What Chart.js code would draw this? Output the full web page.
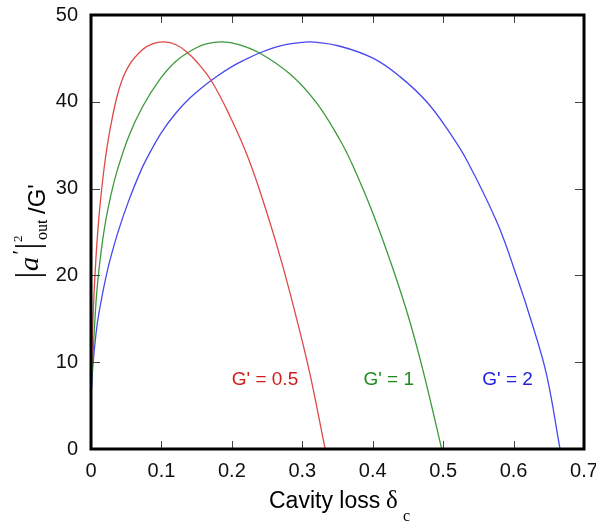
<!DOCTYPE html>
<html>
<head>
<meta charset="utf-8">
<script src="https://cdn.jsdelivr.net/npm/chart.js@4.4.1/dist/chart.umd.min.js"></script>
<style>
html,body{margin:0;padding:0;background:#fff}
#wrap{width:596px;height:524px}
</style>
</head>
<body>
<div id="wrap"><canvas id="c" width="596" height="524"></canvas></div>
<script>
// values (cavity loss -> |a'|^2_out / G')
const lossG05 = [0.001,0.0033,0.0071,0.0118,0.019,0.027,0.040,0.054,0.073,0.088,0.104,0.120,0.135,0.149,0.171,0.197,0.2234,0.2494,0.2708,0.292,0.311,0.3325];
const outG05  = [10,16.1,22.1,27.2,32.6,36.8,41.5,44.2,46.0,46.7,46.9,46.6,45.8,44.7,42.4,38.4,33.5,27.3,21.5,15.0,8.6,0];

const lossG1 = [0.001,0.0071,0.0118,0.019,0.0284,0.038,0.054,0.073,0.097,0.121,0.149,0.165,0.186,0.210,0.240,0.2826,0.320,0.3535,0.372,0.401,0.429,0.453,0.474,0.498];
const outG1  = [8,16.9,21,25.4,29.3,32.3,36.1,39.4,42.5,44.7,46.2,46.7,46.9,46.6,45.6,43.2,39.9,35.6,32.6,27.0,20.7,14.6,8.2,0];

const lossG2 = [0.001,0.0024,0.0071,0.0118,0.0237,0.038,0.054,0.071,0.080,0.100,0.120,0.140,0.160,0.180,0.200,0.220,0.240,0.260,0.280,0.300,0.313,0.3535,0.401,0.4387,0.4766,0.5097,0.5334,0.576,0.6044,0.628,0.647,0.666];
const outG2  = [7,9.3,13.3,15.9,20.7,24.9,28.7,32.1,33.6,36.45,38.65,40.4,41.8,43.0,44.05,44.9,45.65,46.25,46.65,46.85,46.9,46.4,45.0,42.9,40.0,36.4,33.3,26.2,19.9,14.0,8.5,0];

const xTicks = [0,0.1,0.2,0.3,0.4,0.5,0.6,0.7];
const yTicks = [0,10,20,30,40,50];

const curveNames = ["G' = 0.5","G' = 1","G' = 2"];
const nameAtLoss = [0.247,0.4227,0.5914];
const nameAtOut  = [7.95,7.95,7.95];
const lineColors = ['#e04848','#3c9a3c','#4848f0'];
const textColors = ['#d01c1c','#1e8c1e','#2020e0'];

function pts(xs, ys){ return xs.map((x,i)=>({x:x, y:ys[i]})); }

function ds(label, xs, ys, color){
  return {label:label, data:pts(xs,ys), showLine:true, borderColor:color, backgroundColor:color,
    borderWidth:1.3, pointRadius:0, fill:false, tension:0.4};
}

const framePlugin = {
  id:'frame',
  afterDatasetsDraw(chart){
    const ctx = chart.ctx, a = chart.chartArea, x = chart.scales.x, y = chart.scales.y;
    ctx.save();
    // ticks pointing inward on all four sides
    ctx.strokeStyle = '#444'; ctx.lineWidth = 1;
    ctx.beginPath();
    for(let i=1;i<xTicks.length-1;i++){
      const px = Math.round(x.getPixelForValue(xTicks[i]))+0.5;
      ctx.moveTo(px,a.bottom); ctx.lineTo(px,a.bottom-8);
      ctx.moveTo(px,a.top); ctx.lineTo(px,a.top+8);
    }
    for(let i=1;i<yTicks.length-1;i++){
      const py = Math.round(y.getPixelForValue(yTicks[i]))+0.5;
      ctx.moveTo(a.left,py); ctx.lineTo(a.left+9,py);
      ctx.moveTo(a.right,py); ctx.lineTo(a.right-9,py);
    }
    ctx.stroke();
    ctx.strokeStyle = '#000'; ctx.lineWidth = 3;
    ctx.strokeRect(a.left, a.top, a.right-a.left, a.bottom-a.top);

    // curve names
    ctx.font = '19px "Liberation Sans", Arial, sans-serif';
    ctx.textAlign = 'center'; ctx.textBaseline = 'middle';
    curveNames.forEach((t,i)=>{
      ctx.fillStyle = textColors[i];
      ctx.fillText(t, x.getPixelForValue(nameAtLoss[i]), y.getPixelForValue(nameAtOut[i]));
    });

    // x title: Cavity loss δc
    ctx.fillStyle = '#000'; ctx.textAlign = 'left'; ctx.textBaseline = 'alphabetic';
    ctx.font = '23px "Liberation Sans", Arial, sans-serif';
    ctx.fillText('Cavity loss', 269, 508);
    ctx.font = '25px "Liberation Serif", "Times New Roman", serif';
    ctx.fillText('δ', 386, 508);
    ctx.font = '16px "Liberation Serif", "Times New Roman", serif';
    ctx.fillText('c', 403, 521);

    // y title: |a'|^2_out /G'
    ctx.translate(0, 280);
    ctx.rotate(-Math.PI/2);
    ctx.font = '34px "Liberation Serif", "Times New Roman", serif';
    ctx.textAlign = 'center';
    ctx.fillText('|', 5, 39);
    ctx.fillText('|', 34, 39);
    ctx.textAlign = 'left';
    ctx.font = 'italic 28px "Liberation Serif", "Times New Roman", serif';
    ctx.fillText('a', 9, 38);
    ctx.font = 'italic 22px "Liberation Serif", "Times New Roman", serif';
    ctx.fillText('\u2032', 24, 27);
    ctx.font = '13px "Liberation Serif", "Times New Roman", serif';
    ctx.fillText('2', 38, 22);
    ctx.font = '16px "Liberation Serif", "Times New Roman", serif';
    ctx.fillText('out', 40, 47);
    ctx.font = '24px "Liberation Sans", Arial, sans-serif';
    ctx.fillText("/G'", 66, 45);
    ctx.restore();
  }
};

new Chart(document.getElementById('c').getContext('2d'), {
  type:'scatter',
  data:{datasets:[
    ds(curveNames[0], lossG05, outG05, lineColors[0]),
    ds(curveNames[1], lossG1, outG1, lineColors[1]),
    ds(curveNames[2], lossG2, outG2, lineColors[2])
  ]},
  options:{
    responsive:false, animation:false, devicePixelRatio:1,
    layout:{padding:{left:0,right:12,top:15,bottom:0}},
    plugins:{legend:{display:false}, tooltip:{enabled:false}},
    scales:{
      x:{type:'linear', min:0, max:0.7,
        grid:{display:false, drawTicks:false}, border:{display:false},
        ticks:{stepSize:0.1, color:'#111', padding:10, maxRotation:0,
          font:{family:'"Liberation Sans", Arial, sans-serif', size:20}},
        afterFit(s){ s.height = 75; s.paddingLeft = 0; s.paddingRight = 0; }},
      y:{type:'linear', min:0, max:50,
        grid:{display:false, drawTicks:false}, border:{display:false},
        ticks:{stepSize:10, color:'#111', padding:13,
          font:{family:'"Liberation Sans", Arial, sans-serif', size:20}},
        afterFit(s){ s.width = 91; s.paddingTop = 0; s.paddingBottom = 0; }}
    }
  },
  plugins:[framePlugin]
});
</script>
</body>
</html>
